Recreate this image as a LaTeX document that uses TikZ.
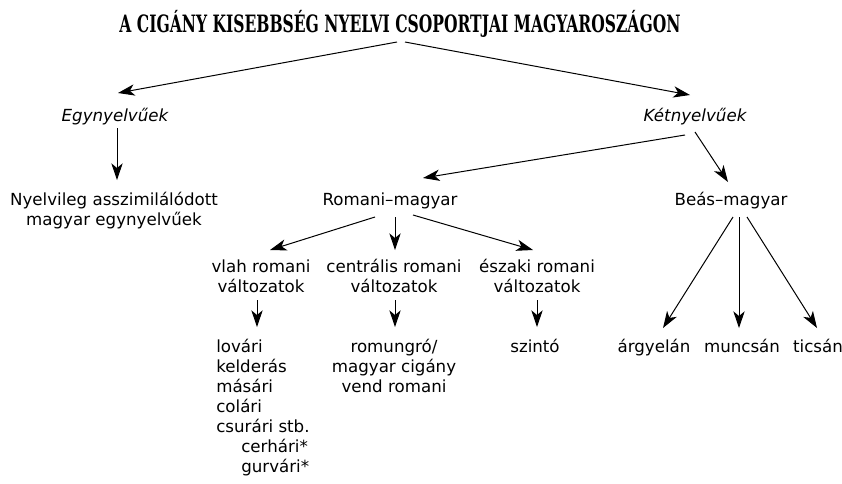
\documentclass[tikz,border=0pt]{standalone}
\usepackage{fontspec}
\usepackage{graphicx}
\setmainfont{DejaVu Sans}
\newfontfamily\titlefont[FakeStretch=0.65]{DejaVu Serif}
\usetikzlibrary{arrows.meta}
\newcommand\dfs{\fontsize{12.5}{15}\selectfont}
\begin{document}
\begin{tikzpicture}[x=0.75pt,y=-0.75pt,
  lbl/.style={inner sep=0pt, font=\dfs, anchor=base},
  arr/.style={-{Stealth[length=12.5pt,width=8.5pt,inset=3.5pt]}, line width=0.75pt}]
\useasboundingbox (0,0) rectangle (842,483);
% nodes (multi-line nodes: base = baseline of last line)
\node[lbl] (title) at (400,32) {\resizebox{420.75pt}{!}{\titlefont\bfseries A CIGÁNY KISEBBSÉG NYELVI CSOPORTJAI MAGYAROSZÁGON}};
\node[lbl, font=\dfs\itshape] (egy) at (115,121) {Egynyelvűek};
\node[lbl, font=\dfs\itshape] (ket) at (695,121) {Kétnyelvűek};
\node[lbl, align=center] (nyelv) at (114,225) {Nyelvileg asszimilálódott\\magyar egynyelvűek};
\node[lbl] (romani) at (390,205) {Romani–magyar};
\node[lbl] (beas) at (731,205) {Beás–magyar};
\node[lbl, align=center] (vlah) at (261,292) {vlah romani\\változatok};
\node[lbl, align=center] (centr) at (394,292) {centrális romani\\változatok};
\node[lbl, align=center] (eszaki) at (537,292) {északi romani\\változatok};
\node[lbl, anchor=base west, align=left] (lovari) at (216,472) {lovári\\kelderás\\másári\\colári\\csurári stb.\\\hspace*{18.75pt}cerhári*\\\hspace*{18.75pt}gurvári*};
\node[lbl, align=center] (romungro) at (394,392) {romungró/\\magyar cigány\\vend romani};
\node[lbl] (szinto) at (535,352) {szintó};
\node[lbl] (argyelan) at (654,352) {árgyelán};
\node[lbl] (muncsan) at (742,352) {muncsán};
\node[lbl] (ticsan) at (818,352) {ticsán};
% connectors
\draw[arr] ([shift={(-3,10)}]title.base) -- ([shift={(3,-28)}]egy.base);
\draw[arr] ([shift={(5,10)}]title.base) -- ([shift={(-5,-26)}]ket.base);
\draw[arr] ([shift={(2,7)}]egy.base) -- ([shift={(3,-45)}]nyelv.base);
\draw[arr] ([shift={(-10,14)}]ket.base) -- ([shift={(33,-27)}]romani.base);
\draw[arr] ([shift={(0,11)}]ket.base) -- ([shift={(-3,-23)}]beas.base);
\draw[arr] ([shift={(-15,12)}]romani.base) -- ([shift={(9,-42)}]vlah.base);
\draw[arr] ([shift={(5,12)}]romani.base) -- ([shift={(1,-42)}]centr.base);
\draw[arr] ([shift={(23,10)}]romani.base) -- ([shift={(-4,-42)}]eszaki.base);
\draw[arr] ([shift={(-4,8)}]vlah.base) -- ([shift={(41,-145)}]lovari.base west);
\draw[arr] ([shift={(1,8)}]centr.base) -- ([shift={(1,-65)}]romungro.base);
\draw[arr] ([shift={(0,8)}]eszaki.base) -- ([shift={(2,-25)}]szinto.base);
\draw[arr] ([shift={(2,12)}]beas.base) -- ([shift={(9,-24)}]argyelan.base);
\draw[arr] ([shift={(8,12)}]beas.base) -- ([shift={(-3,-24)}]muncsan.base);
\draw[arr] ([shift={(16,12)}]beas.base) -- ([shift={(-1,-24)}]ticsan.base);
\end{tikzpicture}
\end{document}
